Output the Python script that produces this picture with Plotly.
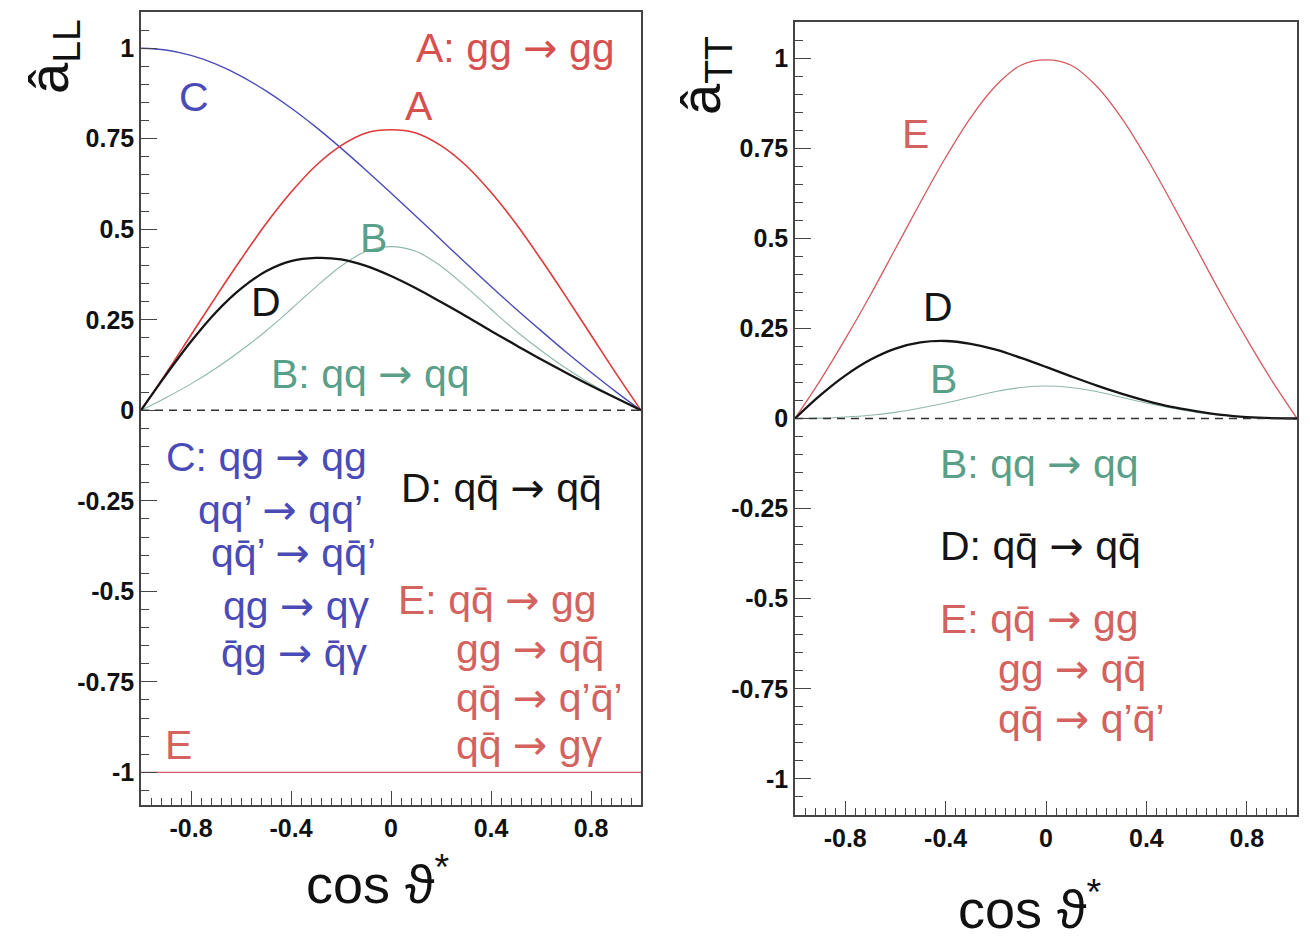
import plotly.graph_objects as go

# cos(theta*) sampling points shared by all curves
COS_THETA = [-1.0, -0.9, -0.8, -0.7, -0.6, -0.5, -0.4, -0.3, -0.2, -0.1, 0.0,
             0.1, 0.2, 0.3, 0.4, 0.5, 0.6, 0.7, 0.8, 0.9, 1.0]

# longitudinal asymmetries a_LL
ALL_A = [0.0, 0.102, 0.208, 0.314, 0.417, 0.515, 0.602, 0.676, 0.731, 0.766, 0.775,
         0.766, 0.731, 0.676, 0.602, 0.515, 0.417, 0.314, 0.208, 0.102, 0.0]
ALL_B = [0.0, 0.035, 0.073, 0.116, 0.165, 0.219, 0.279, 0.341, 0.398, 0.439, 0.452,
         0.439, 0.398, 0.341, 0.279, 0.219, 0.165, 0.116, 0.073, 0.035, 0.0]
ALL_C = [1.0, 0.995, 0.980, 0.956, 0.923, 0.882, 0.835, 0.782, 0.724, 0.663, 0.600,
         0.536, 0.471, 0.406, 0.342, 0.280, 0.220, 0.161, 0.105, 0.051, 0.0]
ALL_D = [0.0, 0.098, 0.190, 0.271, 0.336, 0.384, 0.412, 0.421, 0.417, 0.399, 0.371,
         0.337, 0.299, 0.260, 0.219, 0.180, 0.141, 0.104, 0.068, 0.034, 0.0]
E_X = [-1.0, 1.0]
ALL_E = [-1.0, -1.0]

# transverse asymmetries a_TT
ATT_B = [0.0, 0.001, 0.004, 0.009, 0.017, 0.029, 0.043, 0.059, 0.075, 0.086, 0.090,
         0.086, 0.075, 0.059, 0.043, 0.029, 0.017, 0.009, 0.004, 0.001, 0.0]
ATT_D = [0.0, 0.064, 0.119, 0.163, 0.194, 0.211, 0.215, 0.207, 0.191, 0.168, 0.143,
         0.117, 0.092, 0.069, 0.049, 0.032, 0.020, 0.010, 0.004, 0.001, 0.0]
ATT_E = [0.0, 0.105, 0.220, 0.342, 0.471, 0.600, 0.724, 0.835, 0.923, 0.980, 0.995,
         0.980, 0.923, 0.835, 0.724, 0.600, 0.471, 0.342, 0.220, 0.105, 0.0]

Y_TICKS = [1.0, 0.75, 0.5, 0.25, 0.0, -0.25, -0.5, -0.75, -1.0]
Y_TICK_TEXT = ["1", "0.75", "0.5", "0.25", "0", "-0.25", "-0.5", "-0.75", "-1"]
X_TICKS = [-0.8, -0.4, 0.0, 0.4, 0.8]
X_TICK_TEXT = ["-0.8", "-0.4", "0", "0.4", "0.8"]

RED = "#dd3a3a"
BLUE = "#4b4bb8"
GREEN = "#5a9f88"
BLACK = "#151515"
ROSE = "#d45a60"
TXT_RED = "#d8504e"
TXT_ROSE = "#d4625e"
THIN_GREEN = "#8fb8a8"
AX = "#444444"

W, H = 1310, 944
FONT = "Liberation Sans, Arial, Helvetica, sans-serif"
ARROW = '<span style="font-family:DejaVu Sans">→</span>'
QBAR = "q\u0304"

fig = go.Figure()


def curve(x, y, color, width, xa, ya, shape="spline"):
    fig.add_trace(go.Scatter(x=x, y=y, mode="lines", xaxis=xa, yaxis=ya,
                             line=dict(color=color, width=width, shape=shape),
                             showlegend=False, hoverinfo="skip"))


# left panel: a_LL
curve(COS_THETA, ALL_C, BLUE, 1.4, "x", "y")
curve(COS_THETA, ALL_A, RED, 1.6, "x", "y")
curve(COS_THETA, ALL_B, THIN_GREEN, 1.1, "x", "y")
curve(COS_THETA, ALL_D, BLACK, 2.3, "x", "y")
curve(E_X, ALL_E, ROSE, 1.3, "x", "y", shape="linear")

# right panel: a_TT
curve(COS_THETA, ATT_E, ROSE, 1.3, "x2", "y2")
curve(COS_THETA, ATT_B, THIN_GREEN, 1.1, "x2", "y2")
curve(COS_THETA, ATT_D, BLACK, 2.3, "x2", "y2")

# dashed zero reference lines
for xr, yr in (("x", "y"), ("x2", "y2")):
    fig.add_shape(type="line", xref=xr, yref=yr, x0=-1, x1=1, y0=0, y1=0,
                  line=dict(color="#333333", width=1.4, dash="8px,6px"))

xdom_l = [141 / W, 641 / W]
xdom_r = [795 / W, 1297 / W]
ydom_l = [1 - 805 / H, 1 - 12 / H]
ydom_r = [1 - 815 / H, 1 - 22 / H]

tickfont = dict(family=FONT, size=25, color="#111111", weight="bold")
axis_line = dict(showline=True, linecolor=AX, linewidth=1.5, mirror=True,
                 showgrid=False, zeroline=False)

xaxis_common = dict(range=[-1, 1], tickmode="array", tickvals=X_TICKS, ticktext=X_TICK_TEXT,
                    ticks="inside", ticklen=14, tickwidth=1.3, tickcolor=AX,
                    minor=dict(ticks="inside", dtick=0.04, tick0=0, ticklen=7,
                               tickwidth=1.1, tickcolor=AX),
                    tickfont=tickfont, **axis_line)
# extra overlay axes carrying the long ticks at every 0.2
xaxis_mid = dict(range=[-1, 1], tickmode="linear", tick0=0, dtick=0.2,
                 ticks="inside", ticklen=14, tickwidth=1.3, tickcolor=AX,
                 showticklabels=False, showline=False, showgrid=False, zeroline=False)
yaxis_common = dict(range=[-1.09, 1.1], tickmode="array", tickvals=Y_TICKS, ticktext=Y_TICK_TEXT,
                    ticks="inside", ticklen=16, tickwidth=1.3, tickcolor=AX,
                    minor=dict(ticks="inside", dtick=0.05, tick0=0, ticklen=8,
                               tickwidth=1.1, tickcolor=AX),
                    tickfont=tickfont, **axis_line)

fig.update_layout(
    width=W, height=H, autosize=False,
    margin=dict(l=0, r=0, t=0, b=0),
    paper_bgcolor="white", plot_bgcolor="white",
    font=dict(family=FONT),
    xaxis=dict(domain=xdom_l, anchor="y", **xaxis_common),
    yaxis=dict(domain=ydom_l, anchor="x", **yaxis_common),
    xaxis2=dict(domain=xdom_r, anchor="y2", **xaxis_common),
    yaxis2=dict(domain=ydom_r, anchor="x2", **{**yaxis_common, "range": [-1.1, 1.1]}),
    xaxis3=dict(overlaying="x", anchor="y", **xaxis_mid),
    xaxis4=dict(overlaying="x2", anchor="y2", **xaxis_mid),
)

LBL = 41
labels_left = [
    (f"A: gg {ARROW} gg", 0.09, 1.0, TXT_RED, "left"),
    ("A", 0.11, 0.84, TXT_RED, "center"),
    ("C", -0.79, 0.865, BLUE, "center"),
    ("B", -0.07, 0.475, GREEN, "center"),
    ("D", -0.50, 0.30, BLACK, "center"),
    (f"B: qq {ARROW} qq", -0.49, 0.10, GREEN, "left"),
    (f"C: qg {ARROW} qg", -0.91, -0.13, BLUE, "left"),
    (f"qq’ {ARROW} qq’", -0.78, -0.275, BLUE, "left"),
    (f"q{QBAR}’ {ARROW} q{QBAR}’", -0.73, -0.395, BLUE, "left"),
    (f"qg {ARROW} qγ", -0.68, -0.54, BLUE, "left"),
    (f"{QBAR}g {ARROW} {QBAR}γ", -0.69, -0.67, BLUE, "left"),
    (f"D: q{QBAR} {ARROW} q{QBAR}", 0.03, -0.215, BLACK, "left"),
    (f"E: q{QBAR} {ARROW} gg", 0.02, -0.525, TXT_ROSE, "left"),
    (f"gg {ARROW} q{QBAR}", 0.25, -0.66, TXT_ROSE, "left"),
    (f"q{QBAR} {ARROW} q’{QBAR}’", 0.25, -0.795, TXT_ROSE, "left"),
    (f"q{QBAR} {ARROW} gγ", 0.25, -0.925, TXT_ROSE, "left"),
    ("E", -0.85, -0.925, TXT_ROSE, "center"),
]
labels_right = [
    ("E", -0.52, 0.79, TXT_ROSE, "center"),
    ("D", -0.43, 0.31, BLACK, "center"),
    ("B", -0.41, 0.11, GREEN, "center"),
    (f"B: qq {ARROW} qq", -0.43, -0.125, GREEN, "left"),
    (f"D: q{QBAR} {ARROW} q{QBAR}", -0.43, -0.353, BLACK, "left"),
    (f"E: q{QBAR} {ARROW} gg", -0.43, -0.556, TXT_ROSE, "left"),
    (f"gg {ARROW} q{QBAR}", -0.20, -0.694, TXT_ROSE, "left"),
    (f"q{QBAR} {ARROW} q’{QBAR}’", -0.20, -0.833, TXT_ROSE, "left"),
]

for items, xr, yr in ((labels_left, "x", "y"), (labels_right, "x2", "y2")):
    for text, x, y, color, anchor in items:
        fig.add_annotation(x=x, y=y, xref=xr, yref=yr, text=text, showarrow=False,
                           xanchor=anchor, yanchor="middle",
                           font=dict(family=FONT, size=LBL, color=color))

# axis titles
title_font = dict(family=FONT, size=56, color="#111111")
for text, x, y in (("â<sub>LL</sub>", 52, 57), ("â<sub>TT</sub>", 705, 75)):
    fig.add_annotation(x=x / W, y=1 - y / H, xref="paper", yref="paper", text=text,
                       showarrow=False, textangle=-90, xanchor="center", yanchor="middle",
                       font=title_font)
for x, y in ((378, 880), (1030, 905)):
    fig.add_annotation(x=x / W, y=1 - y / H, xref="paper", yref="paper",
                       text="cos ϑ<sup>*</sup>", showarrow=False,
                       xanchor="center", yanchor="middle",
                       font=dict(family=FONT, size=54, color="#111111"))

fig.write_html("out.html")
